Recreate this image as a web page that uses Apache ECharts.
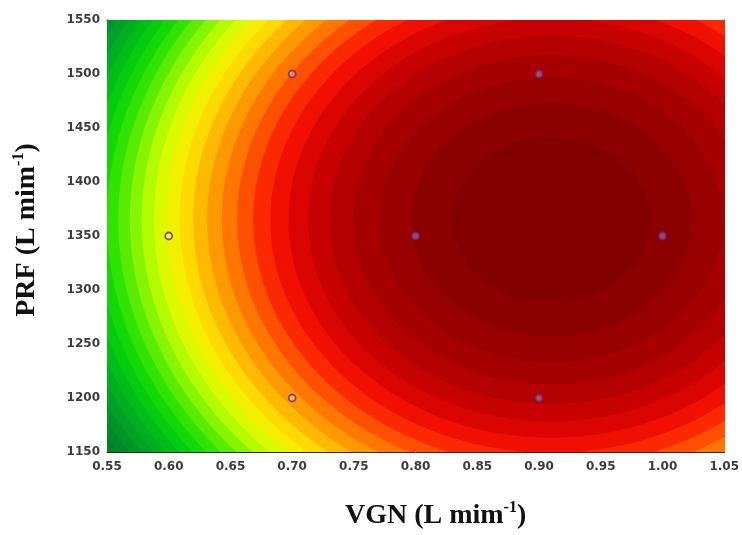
<!DOCTYPE html>
<html>
<head>
<meta charset="utf-8">
<script src="https://cdn.jsdelivr.net/npm/echarts@6/dist/echarts.min.js"></script>
<style>
  html, body { margin: 0; padding: 0; background: #ffffff; }
  #chart { width: 742px; height: 535px; }
</style>
</head>
<body>
<div id="chart"></div>
<script>
// Axis ranges and tick spacing
const vgnRange = [0.55, 1.05];
const vgnStep = 0.05;
const prfRange = [1150, 1550];
const prfStep = 50;

// Experimental design points (VGN, PRF)
const designVGN = [0.60, 0.70, 0.70, 0.80, 0.90, 0.90, 1.00];
const designPRF = [1350, 1500, 1200, 1350, 1500, 1200, 1350];

// Fitted quadratic surface: optimum and the distance along each factor
// at which the normalised response drop reaches 1
const optimum = [0.91, 1365];
const spread = [0.36, 341];

// Contour levels of the normalised response drop (0 = optimum)
const levels = [0.05, 0.10, 0.15, 0.20, 0.25, 0.30, 0.35, 0.40, 0.45, 0.50,
                0.55, 0.60, 0.65, 0.70, 0.75, 0.80, 0.85, 0.90, 0.95, 1.00,
                1.05, 1.10, 1.15, 1.20, 1.25, 1.30, 1.35, 1.40, 1.45, 1.50, 2.50];
const levelStep = 0.05;

// Colour ramp from the optimum (dark red) outwards to dark green
const ramp = ['#7e0000', '#920000', '#ac0000', '#d00000', '#fa1400', '#ff6400',
              '#ffaa00', '#ffea00', '#ccff00', '#70f000', '#18e000', '#00c414',
              '#00a822', '#008e28', '#00782a', '#006428'];

const chart = echarts.init(document.getElementById('chart'));

const tickFont = {
  fontFamily: 'DejaVu Sans',
  fontWeight: 'bold',
  fontSize: 12,
  color: '#3c3c3c'
};
const frameLine = { show: true, lineStyle: { color: '#2a2a2a', width: 1 } };
const innerTick = { show: true, inside: true, length: 3, lineStyle: { color: '#2a2a2a' } };
const titleRich = {
  t: { fontFamily: 'Liberation Serif', fontWeight: 'bold', fontSize: 28, color: '#111', lineHeight: 32 },
  s: { fontFamily: 'Liberation Serif', fontWeight: 'bold', fontSize: 16, color: '#111', lineHeight: 32, verticalAlign: 'top' }
};

// Filled contour bands drawn as nested ellipses, outermost first
const bandData = levels.slice().sort((a, b) => b - a).map(l => [l, l - levelStep / 2]);

const option = {
  animation: false,
  grid: { left: 107, right: 13, top: 20, bottom: 79 },
  visualMap: {
    show: false,
    type: 'continuous',
    seriesIndex: 0,
    dimension: 1,
    min: 0,
    max: 1.5,
    inRange: { color: ramp }
  },
  xAxis: [{
    type: 'value',
    min: vgnRange[0],
    max: vgnRange[1],
    interval: vgnStep,
    position: 'bottom',
    name: '{t|VGN (L mim}{s|-1}{t|)}',
    nameLocation: 'middle',
    nameGap: 48,
    nameTextStyle: { padding: [0, 0, 0, 40], rich: titleRich },
    axisLine: frameLine,
    axisTick: innerTick,
    axisLabel: Object.assign({ margin: 9, formatter: v => v.toFixed(2) }, tickFont),
    splitLine: { show: false }
  }, {
    type: 'value',
    min: vgnRange[0],
    max: vgnRange[1],
    interval: vgnStep,
    position: 'top',
    axisLine: frameLine,
    axisTick: innerTick,
    axisLabel: { show: false },
    splitLine: { show: false }
  }],
  yAxis: [{
    type: 'value',
    min: prfRange[0],
    max: prfRange[1],
    interval: prfStep,
    position: 'left',
    name: '{t|PRF (L mim}{s|-1}{t|)}',
    nameLocation: 'middle',
    nameGap: 64,
    nameTextStyle: { padding: [0, 0, 0, 12], rich: titleRich },
    axisLine: frameLine,
    axisTick: innerTick,
    axisLabel: Object.assign({ margin: 7, formatter: v => String(v) }, tickFont),
    splitLine: { show: false }
  }, {
    type: 'value',
    min: prfRange[0],
    max: prfRange[1],
    interval: prfStep,
    position: 'right',
    axisLine: frameLine,
    axisTick: innerTick,
    axisLabel: { show: false },
    splitLine: { show: false }
  }],
  series: [{
    type: 'custom',
    xAxisIndex: 0,
    yAxisIndex: 0,
    clip: true,
    silent: true,
    z: 1,
    data: bandData,
    renderItem: function (params, api) {
      const u = api.value(0);
      const rx = spread[0] * Math.sqrt(u);
      const ry = spread[1] * Math.sqrt(u);
      const pts = [];
      const n = 240;
      for (let i = 0; i < n; i++) {
        const a = (i / n) * Math.PI * 2;
        pts.push(api.coord([optimum[0] + rx * Math.cos(a), optimum[1] + ry * Math.sin(a)]));
      }
      return {
        type: 'polygon',
        shape: { points: pts },
        style: { fill: api.visual('color') }
      };
    }
  }, {
    type: 'scatter',
    xAxisIndex: 0,
    yAxisIndex: 0,
    z: 5,
    symbol: 'circle',
    symbolSize: 7,
    itemStyle: { color: 'rgba(255,255,255,0.35)', borderColor: '#5a2a9c', borderWidth: 1.8 },
    data: designVGN.map((v, i) => [v, designPRF[i]])
  }]
};

chart.setOption(option);
</script>
</body>
</html>
